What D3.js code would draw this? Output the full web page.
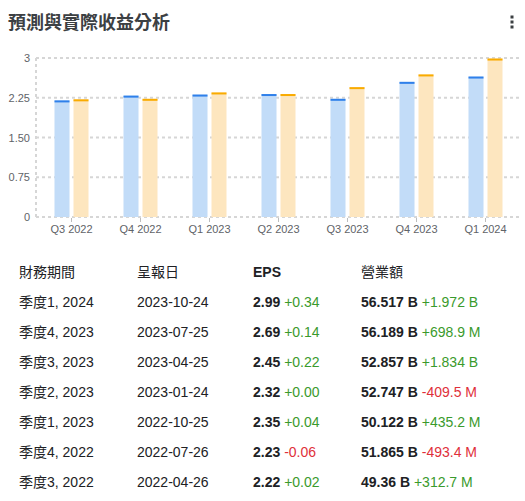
<!DOCTYPE html>
<html><head><meta charset="utf-8">
<script src="https://cdn.jsdelivr.net/npm/d3@7"></script>
<style>
html,body{margin:0;padding:0;background:#fff;}
svg{display:block;font-family:Arial,"Liberation Sans","Noto Sans CJK TC",sans-serif;}
</style></head>
<body>
<svg id="c" width="525" height="501"></svg>
<script>
const categories = ["Q3 2022","Q4 2022","Q1 2023","Q2 2023","Q3 2023","Q4 2023","Q1 2024"];
const estimateEPS = [2.20, 2.29, 2.31, 2.32, 2.23, 2.55, 2.65];
const actualEPS   = [2.22, 2.23, 2.35, 2.32, 2.45, 2.69, 2.99];
const yTicks = [0, 0.75, 1.5, 2.25, 3];
const yTickLabels = ["0","0.75","1.50","2.25","3"];

const tableHeaders = ["財務期間","呈報日","EPS","營業額"];
const periods = ["季度1, 2024","季度4, 2023","季度3, 2023","季度2, 2023","季度1, 2023","季度4, 2022","季度3, 2022"];
const reportDates = ["2023-10-24","2023-07-25","2023-04-25","2023-01-24","2022-10-25","2022-07-26","2022-04-26"];
const epsValues = ["2.99","2.69","2.45","2.32","2.35","2.23","2.22"];
const epsDiffs = ["+0.34","+0.14","+0.22","+0.00","+0.04","-0.06","+0.02"];
const revenueValues = ["56.517 B","56.189 B","52.857 B","52.747 B","50.122 B","51.865 B","49.36 B"];
const revenueDiffs = ["+1.972 B","+698.9 M","+1.834 B","-409.5 M","+435.2 M","-493.4 M","+312.7 M"];

const svg = d3.select("#c");
const GREEN = "#3a9a2c", RED = "#e0303a", TXT = "#202124", AX = "#5f6368";

// title
svg.append("text").attr("x", 8).attr("y", 29).attr("font-size", 18).attr("font-weight", "bold")
  .attr("fill", "#3c4043").attr("font-family", "'Noto Sans CJK TC',sans-serif").text("預測與實際收益分析");
// menu dots
[17, 22, 27].forEach(cy => svg.append("rect").attr("x", 510.5).attr("y", cy - 1.5).attr("width", 3).attr("height", 3).attr("fill", "#3c4043"));

// scales
const y = d3.scaleLinear().domain([0, 3]).range([217, 58]);
const x0 = d3.scaleBand().domain(categories).range([37, 520]).padding(0);
const x1 = d3.scaleBand().domain(["est","act"]).paddingInner(2 - 34/19).paddingOuter(0);

const plotL = 36, plotR = 522;
// grid
const g = svg.append("g");
g.selectAll("line.grid").data(yTicks).enter().append("line")
  .attr("x1", plotL).attr("x2", plotR).attr("y1", d => y(d)).attr("y2", d => y(d))
  .attr("stroke", "#d6d6d6").attr("stroke-width", 2).attr("stroke-dasharray", "3,3");
g.append("line").attr("x1", plotL).attr("x2", plotL).attr("y1", y(3)).attr("y2", y(0))
  .attr("stroke", "#d6d6d6").attr("stroke-width", 2).attr("stroke-dasharray", "3,3");
g.selectAll("text.yl").data(yTicks).enter().append("text")
  .attr("x", 30).attr("y", d => y(d) + 4).attr("text-anchor", "end")
  .attr("font-size", 11).attr("fill", AX).text((d, i) => yTickLabels[i]);

// bars
const series = [
  {key: "est", vals: estimateEPS, fill: "#c2dcf8", cap: "#2f80ea"},
  {key: "act", vals: actualEPS, fill: "#fde6bf", cap: "#f9ab00"}
];
categories.forEach((c, i) => {
  const cx = x0(c) + x0.bandwidth() / 2;
  x1.range([cx - 17, cx + 17]);
  series.forEach(s => {
    const v = s.vals[i];
    svg.append("rect").attr("x", x1(s.key)).attr("width", x1.bandwidth())
      .attr("y", y(v)).attr("height", y(0) - y(v)).attr("fill", s.fill);
    svg.append("rect").attr("x", x1(s.key)).attr("width", x1.bandwidth())
      .attr("y", y(v)).attr("height", 2).attr("fill", s.cap);
  });
});

// x axis
const xa = svg.append("g").attr("transform", "translate(0,217)")
  .call(d3.axisBottom(x0).tickSize(4).tickSizeOuter(0).tickPadding(4));
xa.select(".domain").remove();
xa.selectAll(".tick line").attr("stroke", "#bdbdbd").attr("transform", "translate(0,1)");
xa.selectAll(".tick text").attr("font-size", 11).attr("fill", AX)
  .attr("font-family", "Arial,'Liberation Sans',sans-serif");

// table
const colX = [19, 137, 253, 361];
const hy = 277;
tableHeaders.forEach((h, i) => {
  svg.append("text").attr("x", colX[i]).attr("y", hy).attr("font-size", 14)
    .attr("fill", TXT).attr("font-weight", i === 2 ? "bold" : "normal").text(h);
});
periods.forEach((p, r) => {
  const ry = hy + 30 * (r + 1);
  svg.append("text").attr("x", colX[0]).attr("y", ry).attr("font-size", 14).attr("fill", TXT).text(p);
  svg.append("text").attr("x", colX[1]).attr("y", ry).attr("font-size", 14).attr("fill", TXT).text(reportDates[r]);
  const t1 = svg.append("text").attr("x", colX[2]).attr("y", ry).attr("font-size", 14).attr("fill", TXT);
  t1.append("tspan").attr("font-weight", "bold").text(epsValues[r]);
  t1.append("tspan").attr("fill", epsDiffs[r].startsWith("-") ? RED : GREEN).text(" " + epsDiffs[r]);
  const t2 = svg.append("text").attr("x", colX[3]).attr("y", ry).attr("font-size", 14).attr("fill", TXT);
  t2.append("tspan").attr("font-weight", "bold").text(revenueValues[r]);
  t2.append("tspan").attr("fill", revenueDiffs[r].startsWith("-") ? RED : GREEN).text(" " + revenueDiffs[r]);
});
</script>
</body></html>
